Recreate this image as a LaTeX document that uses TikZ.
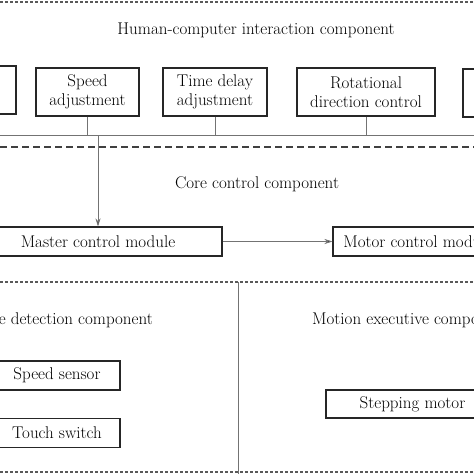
\documentclass[tikz,border=0pt]{standalone}
\usetikzlibrary{arrows.meta}
\begin{document}
\begin{tikzpicture}[x=1pt,y=-1pt,
  box/.style={draw=black!85,line width=1.1pt,rectangle,inner sep=0pt,align=center,font=\fontsize{17}{19}\selectfont},
  lbl/.style={inner sep=0pt,font=\fontsize{17}{19}\selectfont},
  conn/.style={draw=black!55,line width=0.8pt},
  arr/.style={conn,-{Stealth[length=8pt,width=5pt,fill=black]}},
  sdash/.style={draw=black!65,line width=1.6pt,dash pattern=on 3pt off 2pt},
  ldash/.style={draw=black!75,line width=1.3pt,dash pattern=on 7pt off 4pt}]
\useasboundingbox (0,0) rectangle (474,474);
\clip (0,0) rectangle (474,474);
\fill[white] (0,0) rectangle (474,474);
% dashed separators
\coordinate (d1l) at (0,2); \coordinate (d1r) at (474,2);
\coordinate (d2l) at (0,147); \coordinate (d2r) at (474,147);
\coordinate (d3l) at (0,282); \coordinate (d3r) at (474,282);
\coordinate (d4l) at (0,472); \coordinate (d4r) at (474,472);
\draw[sdash] (d1l) -- (d1r);
\draw[ldash] (d2l) -- (d2r);
\draw[sdash] (d3l) -- (d3r);
\draw[sdash] (d4l) -- (d4r);
% titles
\node[lbl] (t1) at (256,30) {Human-computer interaction component};
\node[lbl] (t2) at (257,184) {Core control component};
\node[lbl,anchor=east] (t3) at (153,320) {State detection component};
\node[lbl,anchor=west] (t4) at (312,320) {Motion executive component};
% top row
\node[box,minimum width=76pt,minimum height=48pt] (lb) at (-22,90) {};
\node[box,minimum width=103pt,minimum height=48pt] (sa) at (87.5,92) {Speed\\adjustment};
\node[box,minimum width=104pt,minimum height=48pt] (td) at (215,92) {Time delay\\adjustment};
\node[box,minimum width=138pt,minimum height=48pt] (rd) at (366,92) {Rotational\\direction control};
\node[box,minimum width=100pt,minimum height=48pt] (rb) at (513,93) {};
\coordinate (hl) at (0,135.5); \coordinate (hr) at (474,135.5);
\draw[conn] (hl) -- (hr);
\draw[conn] (sa.south) -- (sa.south |- hl);
\draw[conn] (td.south) -- (td.south |- hl);
\draw[conn] (rd.south) -- (rd.south |- hl);
% core
\node[box,minimum width=248pt,minimum height=29pt] (mc) at (98,241.5) {Master control module};
\node[box,minimum width=170pt,minimum height=29pt] (mo) at (418,241.5) {Motor control module};
\draw[arr] (mc.north |- hl) -- (mc.north);
\draw[arr] (mc.east) -- (mo.west);
% bottom
\coordinate (vt) at (238,282); \coordinate (vb) at (238,474);
\draw[conn] (vt) -- (vb);
\node[box,minimum width=126pt,minimum height=29pt] (ss) at (57,375.5) {Speed sensor};
\node[box,minimum width=126pt,minimum height=29pt] (ts) at (57,433) {Touch switch};
\node[box,minimum width=173pt,minimum height=28pt] (sm) at (412.5,404) {Stepping motor};
\end{tikzpicture}
\end{document}
